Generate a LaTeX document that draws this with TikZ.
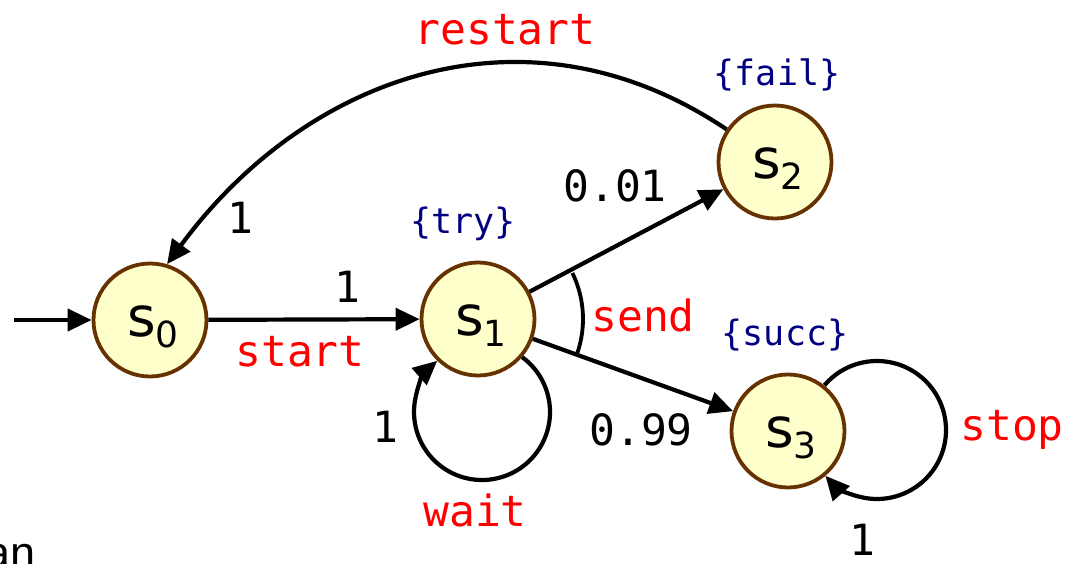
\documentclass[tikz,border=0pt]{standalone}
\usepackage{fontspec}
\setmainfont{DejaVu Sans}
\newfontfamily\monofam{DejaVu Sans Mono}
\newfontfamily\plainsans{Liberation Sans}
\usetikzlibrary{arrows.meta}
\definecolor{statefill}{HTML}{FFFFCC}
\definecolor{stateline}{HTML}{663300}
\definecolor{propblue}{HTML}{000080}
\definecolor{actred}{HTML}{FF0000}
% state name: s with a lowered index
\newcommand{\stname}[1]{{\fontsize{55}{55}\selectfont s}\raisebox{-11pt}{\fontsize{36}{36}\selectfont #1}}
\tikzset{
  state/.style={circle, draw=stateline, fill=statefill, line width=3.8pt, minimum size=113pt, inner sep=0pt},
  statename/.style={anchor=base, inner sep=0pt},
  edge/.style={line width=4.2pt, -{Triangle[length=24pt,width=22pt]}},
  prob/.style={font=\monofam\fontsize{43}{43}\selectfont, text=black, inner sep=0pt},
  act/.style={font=\monofam\fontsize{43}{43}\selectfont, text=actred, inner sep=0pt},
  prop/.style={font=\monofam\fontsize{35}{35}\selectfont, text=propblue, inner sep=0pt}
}
\begin{document}
\begin{tikzpicture}[x=1pt,y=-1pt]
\useasboundingbox (0,0) rectangle (1068,563);

% states
\node[state] (s0) at (150,320) {};
\node[state] (s1) at (478,319) {};
\node[state] (s2) at (775,162) {};
\node[state] (s3) at (788,431) {};
\node[statename] (n0) at ([xshift=3pt,yshift=-16pt]s0.center) {\stname{0}};
\node[statename] (n1) at ([xshift=3pt,yshift=-16pt]s1.center) {\stname{1}};
\node[statename] (n2) at ([xshift=3pt,yshift=-16pt]s2.center) {\stname{2}};
\node[statename] (n3) at ([xshift=3pt,yshift=-16pt]s3.center) {\stname{3}};

% atomic propositions
\node[prop] (ptry) at (463,224) {\{try\}};
\node[prop] (pfail) at (777,75) {\{fail\}};
\node[prop] (psucc) at (785,335) {\{succ\}};

% initial arrow
\coordinate (init) at (14,320);
\draw[edge] (init) -- (s0);

% start
\draw[edge] (s0) -- (s1);
\node[prob] (p01) at (347,287) {1};
\node[act] (astart) at (300,352) {start};

% wait loop: circular arc hanging below s1
\coordinate (w1) at (482,412);
\draw[edge] ([shift={(53.7:68pt)}]w1) arc[start angle=53.7, end angle=-228.8, radius=68pt];
\node[prob] (p11) at (385,427) {1};
\node[act] (await) at (475,510) {wait};

% send: two branches joined by an arc
\draw[edge] (s1) -- (s2);
\draw[edge] (s1) -- (s3);
\draw[line width=3.8pt] ([shift={(-20:105pt)}]s1.center) arc[start angle=-20, end angle=26, radius=105pt];
\node[prob] (p12) at (615,186) {0.01};
\node[prob] (p13) at (641,430) {0.99};
\node[act] (asend) at (643,315) {send};

% restart
\draw[edge] (s2.146) .. controls (528,-4) and (307,74) .. (s0.73);
\node[prob] (p20) at (240,218) {1};
\node[act] (arestart) at (505,30) {restart};

% stop loop: circular arc to the right of s3
\coordinate (w3) at (877,430);
\draw[edge] ([shift={(139.5:69pt)}]w3) arc[start angle=139.5, end angle=-138.4, radius=69pt];
\node[prob] (p33) at (862,540) {1};
\node[act] (astop) at (1012,430) {stop};

% text running below
\node[anchor=base east, inner sep=0pt, font=\plainsans\fontsize{45}{45}\selectfont] (tail) at (36,568) {an};
\end{tikzpicture}
\end{document}
